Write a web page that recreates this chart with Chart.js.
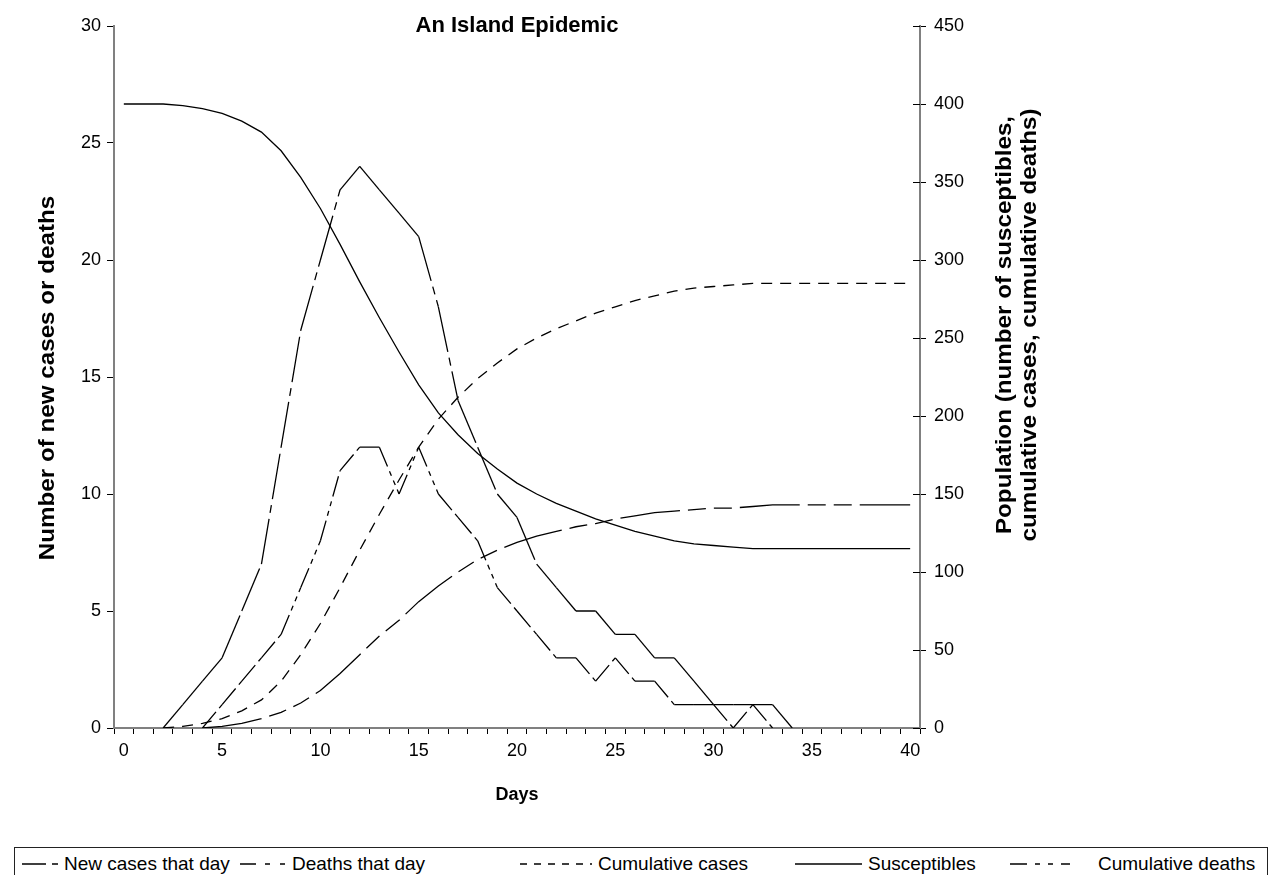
<!DOCTYPE html>
<html>
<head>
<meta charset="utf-8">
<title>An Island Epidemic</title>
<script src="https://cdn.jsdelivr.net/npm/chart.js@4.4.1/dist/chart.umd.min.js"></script>
<style>
  html, body { margin: 0; padding: 0; background: #fff; }
  body { width: 1281px; height: 875px; position: relative; overflow: hidden; font-family: 'Liberation Sans', Arial, sans-serif; }
  #wrap { position: absolute; left: 0; top: 0; width: 1281px; height: 840px; }
  #legend { position: absolute; left: 14px; top: 847px; width: 1252px; height: 32px; border: 1px solid #222;
            font-size: 19px; color: #000; }
  .item { position: absolute; top: 0; height: 32px; display: flex; align-items: center; white-space: nowrap; }
  .item svg { margin-right: 6px; }
</style>
</head>
<body>
<div id="wrap"><canvas id="epidemicChart"></canvas></div>
<div id="legend"></div>
<script>
// Days 0..40
const days = [0, 1, 2, 3, 4, 5, 6, 7, 8, 9, 10, 11, 12, 13, 14, 15, 16, 17, 18, 19, 20,
              21, 22, 23, 24, 25, 26, 27, 28, 29, 30, 31, 32, 33, 34, 35, 36, 37, 38, 39, 40];

// left axis: per day counts
const newCases = [null, null, 0, 1, 2, 3, 5, 7, 12, 17, 20, 23, 24, 23, 22, 21, 18, 14, 12, 10, 9,
                  7, 6, 5, 5, 4, 4, 3, 3, 2, 1, 1, 1, 1, 0, null, null, null, null, null, null];
const deaths = [null, null, null, null, 0, 1, 2, 3, 4, 6, 8, 11, 12, 12, 10, 12, 10, 9, 8, 6, 5,
                4, 3, 3, 2, 3, 2, 2, 1, 1, 1, 0, 1, 0, null, null, null, null, null, null, null];

// right axis: population
const cumCases = [null, null, 0, 1, 3, 6, 11, 18, 30, 47, 67, 90, 114, 137, 159, 180, 198, 212, 224, 234, 243,
                  250, 256, 261, 266, 270, 274, 277, 280, 282, 283, 284, 285, 285, 285, 285, 285, 285, 285, 285, 285];
const susceptibles = [400, 400, 400, 399, 397, 394, 389, 382, 370, 353, 333, 310, 286, 263, 241, 220, 202, 188, 176, 166, 157,
                      150, 144, 139, 134, 130, 126, 123, 120, 118, 117, 116, 115, 115, 115, 115, 115, 115, 115, 115, 115];
const cumDeaths = [null, null, null, null, 0, 1, 3, 6, 10, 16, 24, 35, 47, 59, 69, 81, 91, 100, 108, 114, 119,
                   123, 126, 129, 131, 134, 136, 138, 139, 140, 141, 141, 142, 143, 143, 143, 143, 143, 143, 143, 143];

const seriesNames = ['New cases that day', 'Deaths that day', 'Cumulative cases', 'Susceptibles', 'Cumulative deaths'];

const FONT = "'Liberation Sans', Arial, sans-serif";
const tickFont = { family: FONT, size: 18 };
const boldFont = { family: FONT, size: 18, weight: 'bold' };

const chartDash = [[46, 6, 8, 6], [21, 5, 5, 5, 5, 5], [11, 8], [], [60, 8, 18, 8, 18, 8]];
const restartDash = [true, true, false, false, false];   // dash pattern starts again on every segment
const axisIds = ['y', 'y', 'y2', 'y2', 'y2'];
const seriesData = [newCases, deaths, cumCases, susceptibles, cumDeaths];

// legend look: sample start (inside the box), sample width, dash pattern
const legendSample = [[7, 36, '24,6,6,100'], [225, 46, '16,9,5,10,5,100'], [505, 72, '7,7'], [780, 67, ''], [995, 82, '17,8,5,8,5,8,9,100']];

function rotatedText(ctx, lines, cx, cy, stretch, gap) {
    ctx.save();
    ctx.translate(cx, cy);
    ctx.rotate(-Math.PI / 2);
    ctx.scale(stretch, 1);
    lines.forEach((t, k) => ctx.fillText(t, 0, k * gap));
    ctx.restore();
}

// title, axis titles (both read bottom to top) and crossing ticks on right axis
const overlay = {
    id: 'overlay',
    afterDraw(chart) {
        const { ctx, chartArea } = chart;
        const y2 = chart.scales.y2;
        const midY = (chartArea.top + chartArea.bottom) / 2;
        ctx.save();
        ctx.fillStyle = '#000';
        ctx.textAlign = 'center';
        ctx.textBaseline = 'middle';
        ctx.font = 'bold 22px ' + FONT;
        ctx.fillText('An Island Epidemic', (chartArea.left + chartArea.right) / 2, chartArea.top);

        rotatedText(ctx, ['Number of new cases or deaths'], 48, midY + 1, 1.1, 0);
        rotatedText(ctx, ['Population (number of susceptibles,', 'cumulative cases, cumulative deaths)'],
                    y2.left + 85, midY - 52, 1.1, 25);
        ctx.restore();

        ctx.save();
        ctx.strokeStyle = '#000';
        ctx.lineWidth = 1;
        y2.ticks.forEach(t => {
            const py = Math.round(y2.getPixelForValue(t.value)) + 0.5;
            ctx.beginPath();
            ctx.moveTo(chartArea.right - 7, py);
            ctx.lineTo(chartArea.right, py);
            ctx.stroke();
        });
        ctx.restore();
    }
};

const ctx = document.getElementById('epidemicChart').getContext('2d');
const chart = new Chart(ctx, {
    type: 'line',
    data: {
        labels: days,
        datasets: seriesNames.map((name, i) => ({
            label: name,
            data: seriesData[i],
            yAxisID: axisIds[i],
            borderColor: '#000',
            borderWidth: 1.3,
            borderDash: chartDash[i],
            pointRadius: 0,
            tension: 0,
            fill: false,
            // tiny alternating offset splits the line per segment so the dash restarts
            segment: restartDash[i] ? { borderDashOffset: c => (c.p0DataIndex % 2) * 0.001 } : undefined
        }))
    },
    options: {
        responsive: true,
        maintainAspectRatio: false,
        animation: false,
        layout: { padding: { top: 26, left: 0, right: 0, bottom: 0 } },
        plugins: { legend: { display: false }, tooltip: { enabled: false } },
        scales: {
            x: {
                type: 'category',
                offset: true,
                grid: { offset: true, drawOnChartArea: false, tickLength: 6, color: '#000' },
                border: { color: '#808080', width: 2 },
                ticks: {
                    autoSkip: false, maxRotation: 0, padding: 6, color: '#000', font: tickFont,
                    callback: (v, i) => (days[i] % 5 === 0 ? String(days[i]) : '')
                },
                title: { display: true, text: 'Days', color: '#000', font: boldFont, padding: { top: 0, bottom: 34 } },
                afterFit: s => { s.height = 112; }
            },
            y: {
                position: 'left',
                min: 0, max: 30,
                ticks: { stepSize: 5, padding: 6, color: '#000', font: tickFont },
                grid: { drawOnChartArea: false, tickLength: 7, color: '#000' },
                border: { color: '#808080', width: 2 },
                afterFit: s => { s.width = 114; }
            },
            y2: {
                position: 'right',
                min: 0, max: 450,
                ticks: { stepSize: 50, padding: 8, color: '#000', font: tickFont },
                grid: { drawOnChartArea: false, tickLength: 6, color: '#000' },
                border: { color: '#808080', width: 2 },
                afterFit: s => { s.width = 361; }
            }
        }
    },
    plugins: [overlay]
});

// html legend built from the datasets
document.getElementById('legend').innerHTML = chart.data.datasets.map((ds, i) => {
    const [left, w, dash] = legendSample[i];
    return `<div class="item" style="left:${left}px">
        <svg width="${w}" height="10"><line x1="0" y1="5" x2="${w}" y2="5" stroke="#000" stroke-width="1.3"
            ${dash ? `stroke-dasharray="${dash}"` : ''}/></svg>
        <span>${ds.label}</span>
    </div>`;
}).join('');
</script>
</body>
</html>
